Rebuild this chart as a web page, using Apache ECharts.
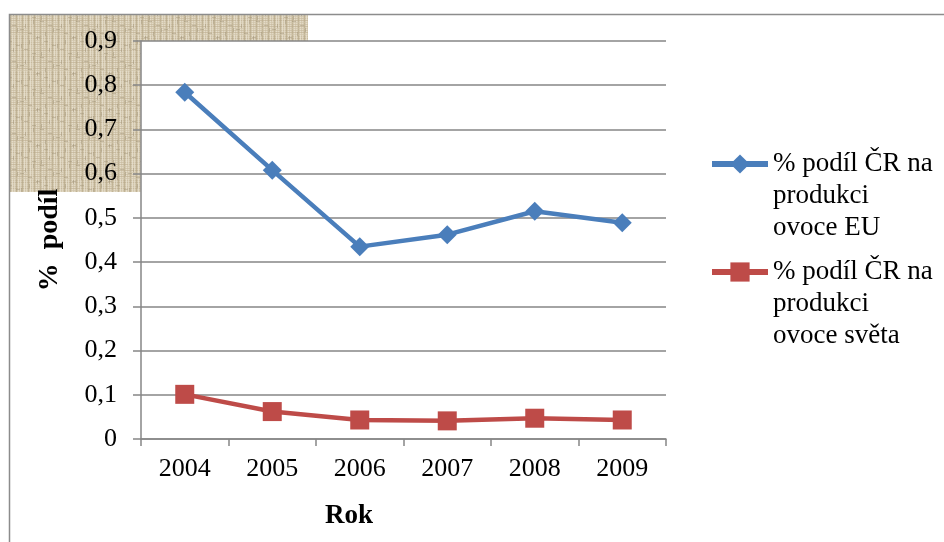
<!DOCTYPE html>
<html>
<head>
<meta charset="utf-8">
<script src="https://cdn.jsdelivr.net/npm/echarts@6/dist/echarts.min.js"></script>
<style>
  html, body { margin: 0; padding: 0; background: #fff; }
  #chart { width: 944px; height: 542px; }
</style>
</head>
<body>
<div id="chart"></div>
<script>
// Years on the category axis
const years = ['2004', '2005', '2006', '2007', '2008', '2009'];
// Czech share of fruit production (%)
const shareEU = [0.784, 0.608, 0.435, 0.462, 0.515, 0.489];
const shareWorld = [0.101, 0.062, 0.043, 0.041, 0.047, 0.043];
const seriesNames = [
  '% podíl ČR na\nprodukci\novoce EU',
  '% podíl ČR na\nprodukci\novoce světa'
];
const yName = '%  podíl';
const xName = 'Rok';

const FONT = '"Liberation Serif", "Times New Roman", serif';

// Woven linen tile for the backdrop panel
function makeLinen() {
  const c = document.createElement('canvas');
  c.width = 36; c.height = 36;
  const g = c.getContext('2d');
  g.fillStyle = '#d6cbb2';
  g.fillRect(0, 0, 36, 36);
  const tones = ['#c4b79b', '#e8e1d0', '#bcae90', '#efe9db', '#cdc1a6', '#b3a585'];
  for (let i = 0; i < 36; i += 2) {
    g.globalAlpha = 0.6;
    g.fillStyle = tones[(i * 7) % tones.length];
    g.fillRect(0, i, 36, 1);
    g.fillStyle = tones[(i * 5 + 3) % tones.length];
    g.fillRect(i, 0, 1, 36);
  }
  g.globalAlpha = 0.45;
  g.fillStyle = '#9f9275';
  for (let i = 0; i < 36; i += 4) {
    g.fillRect((i * 11) % 36, i + 1, 4, 1);
    g.fillRect(i + 1, (i * 13) % 36, 1, 4);
  }
  g.globalAlpha = 1;
  return c;
}

// Legend label: two blank lines above keep the icon level with the first text line
const legendText = {
  fontFamily: FONT, fontSize: 27, color: '#000', lineHeight: 32
};
const legendFormatter = name => '\n\n' + name;

const chart = echarts.init(document.getElementById('chart'), null, { renderer: 'canvas' });

chart.setOption({
  backgroundColor: '#ffffff',
  animation: false,
  graphic: [
    {
      type: 'rect', z: -10, silent: true,
      shape: { x: 10, y: 15, width: 298, height: 177 },
      style: { fill: { image: makeLinen(), repeat: 'repeat' } }
    },
    {
      type: 'polyline', z: 5, silent: true,
      shape: { points: [[9.5, 542], [9.5, 14.5], [944, 14.5]] },
      style: { stroke: '#8c8c8c', lineWidth: 1.5, fill: null }
    }
  ],
  grid: {
    left: 141, right: 278, top: 41, bottom: 103,
    show: true, backgroundColor: '#ffffff', borderWidth: 0
  },
  legend: [
    {
      data: [seriesNames[0]],
      orient: 'vertical', left: 709, top: 84, padding: 0,
      itemWidth: 56, itemHeight: 24, itemGap: 0,
      formatter: legendFormatter,
      lineStyle: { width: 6 },
      textStyle: legendText
    },
    {
      data: [seriesNames[1]],
      orient: 'vertical', left: 709, top: 192, padding: 0,
      itemWidth: 56, itemHeight: 24, itemGap: 0,
      formatter: legendFormatter,
      lineStyle: { width: 6 },
      textStyle: legendText
    }
  ],
  xAxis: {
    type: 'category',
    data: years,
    boundaryGap: true,
    name: xName,
    nameLocation: 'middle',
    nameGap: 64,
    nameTextStyle: { fontFamily: FONT, fontSize: 27, fontWeight: 'bold', color: '#000', padding: [0, 109, 0, 0] },
    axisLine: { lineStyle: { color: '#868686', width: 1.5 } },
    axisTick: { show: true, alignWithLabel: false, length: 7, lineStyle: { color: '#868686', width: 1.5 } },
    axisLabel: { fontFamily: FONT, fontSize: 26, color: '#000', margin: 17 },
    splitLine: { show: false }
  },
  yAxis: {
    type: 'value',
    min: 0, max: 0.9, interval: 0.1,
    name: yName,
    nameLocation: 'middle',
    nameGap: 77,
    nameTextStyle: { fontFamily: FONT, fontSize: 28, fontWeight: 'bold', color: '#000' },
    axisLine: { show: true, lineStyle: { color: '#868686', width: 1.5 } },
    axisTick: { show: true, length: 8, lineStyle: { color: '#868686', width: 1.5 } },
    axisLabel: {
      fontFamily: FONT, fontSize: 26, color: '#000', margin: 24,
      formatter: v => (v === 0 ? '0' : v.toFixed(1).replace('.', ','))
    },
    splitLine: { show: true, lineStyle: { color: '#868686', width: 1.5 } }
  },
  series: [
    {
      name: seriesNames[0],
      type: 'line',
      data: shareEU,
      color: '#4a7ebb',
      lineStyle: { width: 4.5, color: '#4a7ebb' },
      symbol: 'diamond', symbolSize: 19,
      itemStyle: { color: '#4a7ebb' },
      z: 3
    },
    {
      name: seriesNames[1],
      type: 'line',
      data: shareWorld,
      color: '#be4b48',
      lineStyle: { width: 4.5, color: '#be4b48' },
      symbol: 'rect', symbolSize: 19,
      itemStyle: { color: '#be4b48' },
      z: 3
    }
  ]
});
</script>
</body>
</html>
